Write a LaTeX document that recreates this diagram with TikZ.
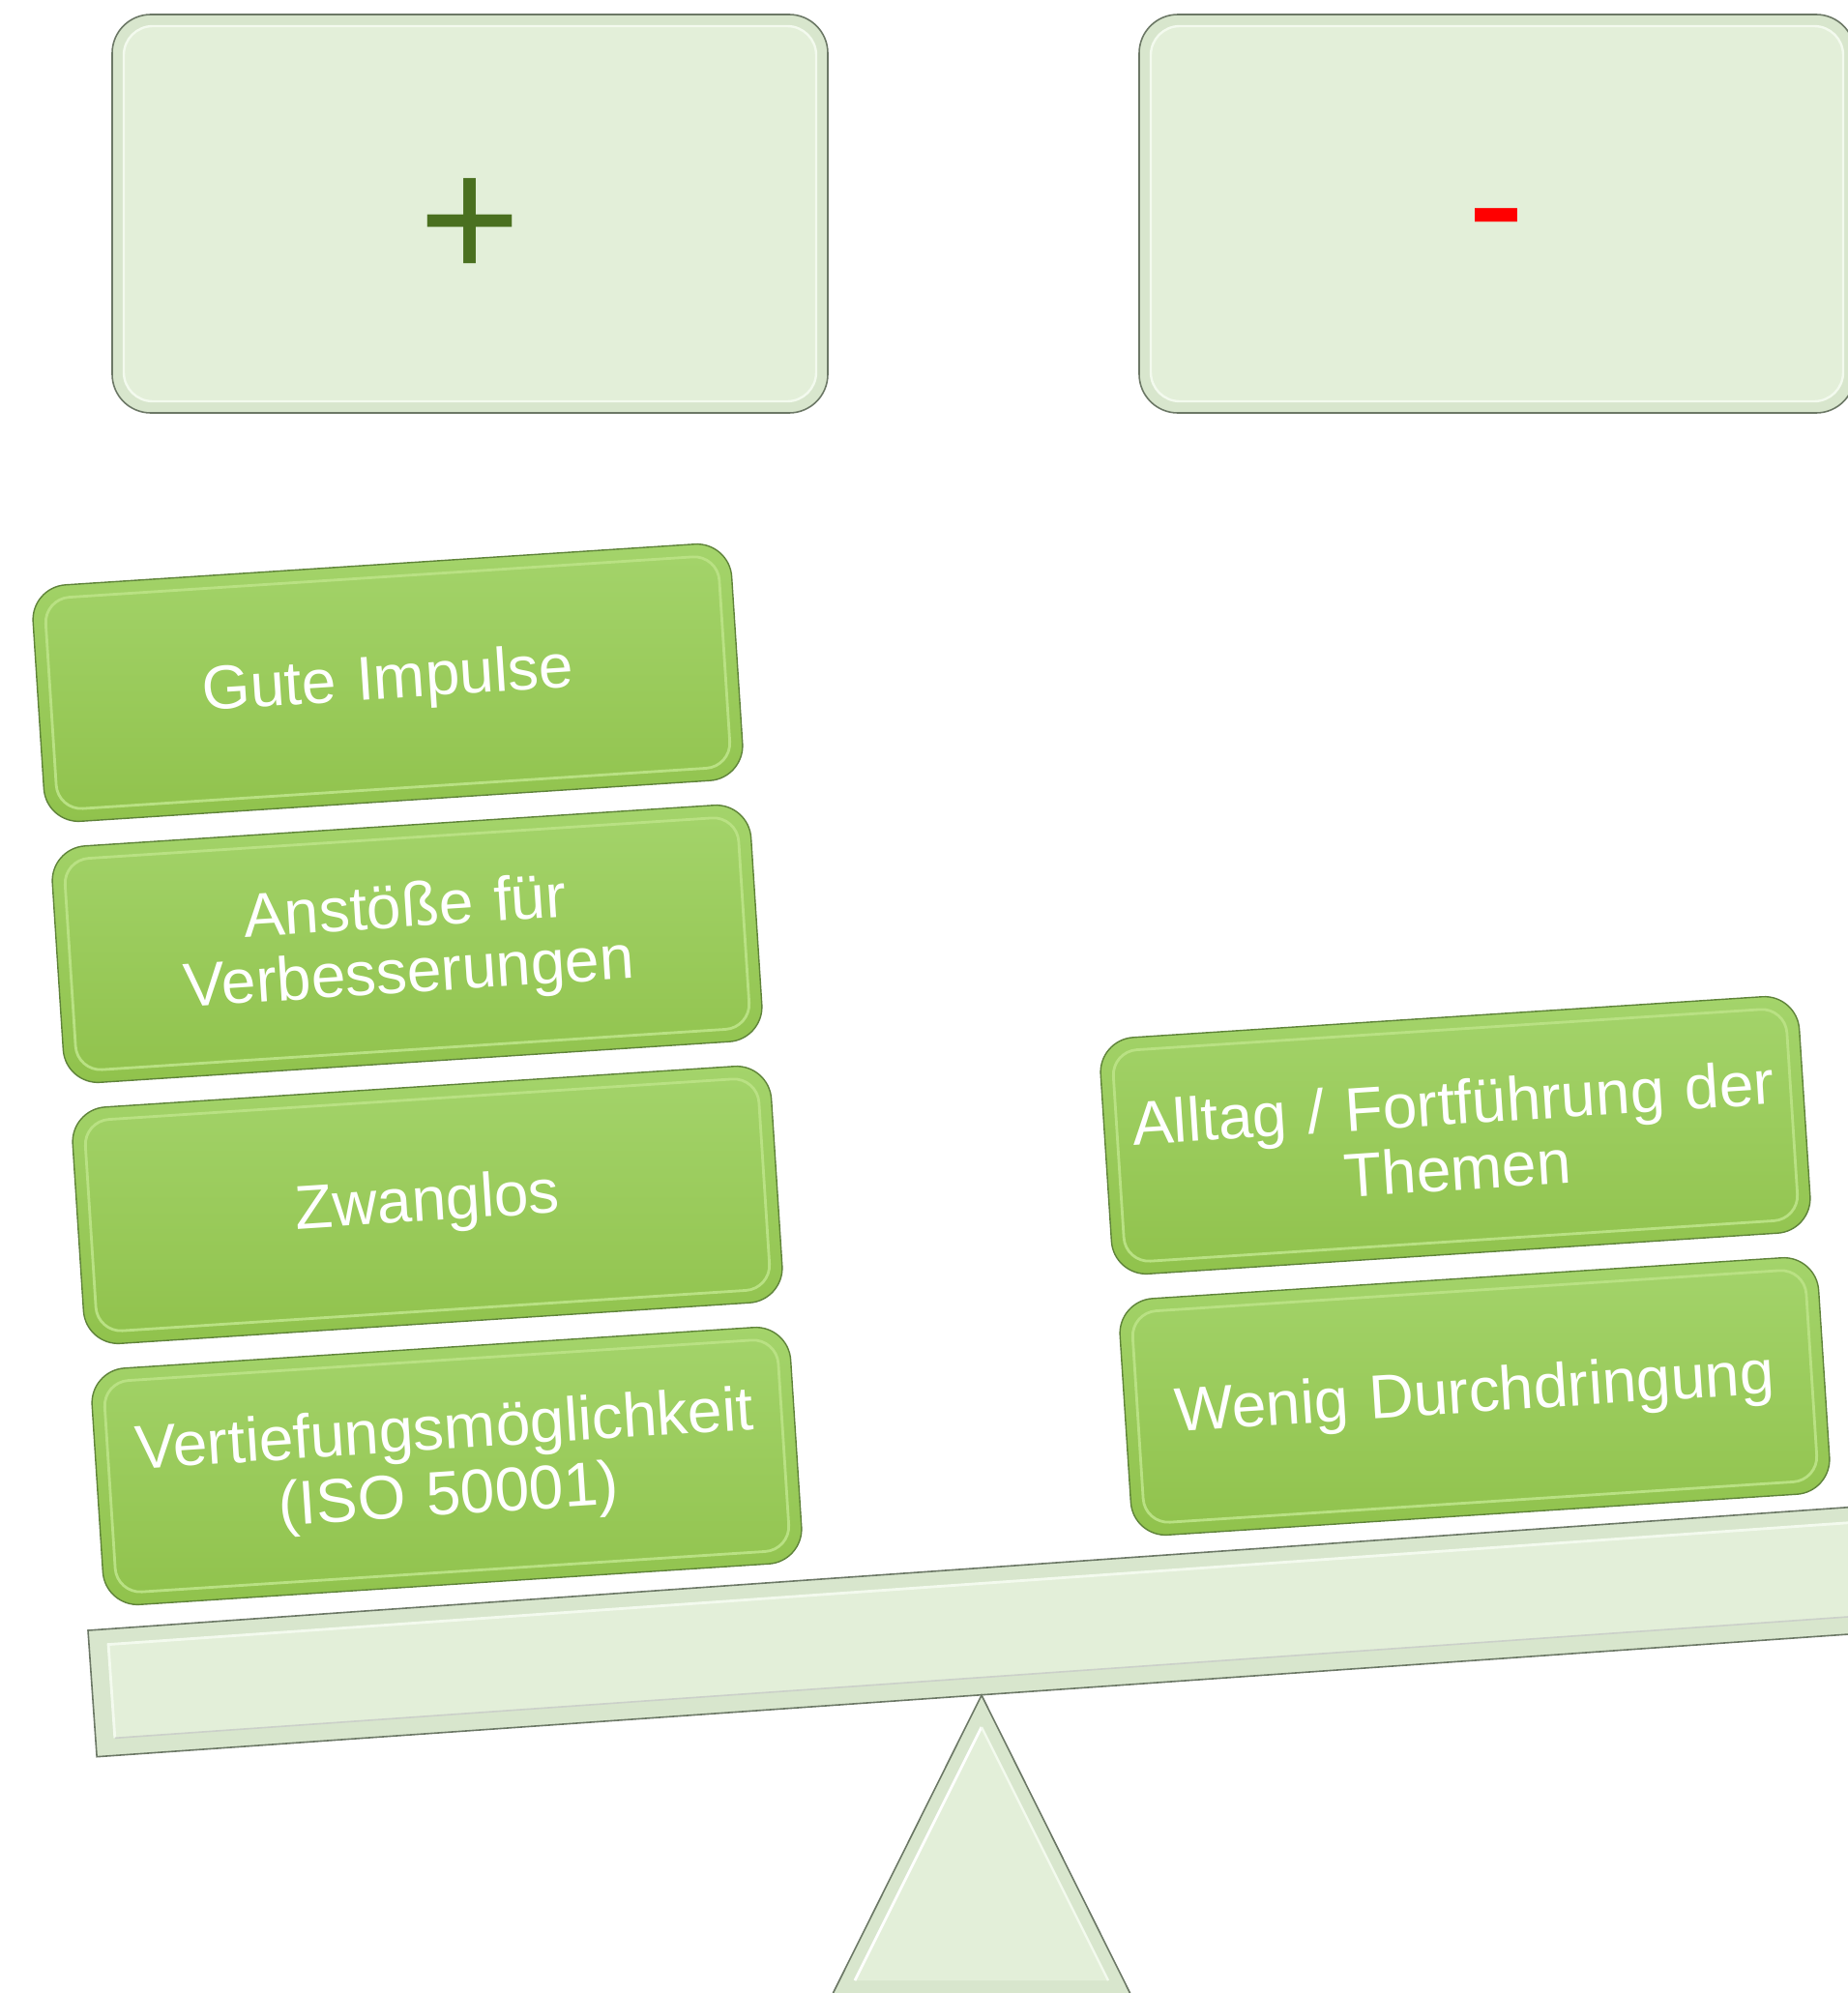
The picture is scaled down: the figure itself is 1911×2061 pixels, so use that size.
\documentclass[tikz,border=0pt]{standalone}
\usepackage{fontspec}
\setmainfont{Liberation Sans}
\definecolor{lightF}{HTML}{E3EFD9}
\definecolor{lightBand}{HTML}{D8E6CD}
\definecolor{lightRim}{HTML}{F3FAEE}
\definecolor{grayLine}{HTML}{6C7866}
\definecolor{gTop}{HTML}{A4D46B}
\definecolor{gBot}{HTML}{90C24C}
\definecolor{gLine}{HTML}{5F833A}
\definecolor{gRim}{HTML}{B9E183}
\definecolor{plusGreen}{HTML}{4A7020}
\begin{document}
\begin{tikzpicture}[x=0.5pt,y=-0.5pt,
  lbox/.style={rectangle, rounded corners=20pt, minimum width=370pt, minimum height=206pt,
    fill=lightBand, draw=grayLine, line width=0.8pt, inner sep=0pt},
  lbevel/.style={rectangle, rounded corners=15pt, minimum width=358pt, minimum height=194pt,
    fill=lightF, draw=lightRim, line width=1.2pt, inner sep=0pt},
  gbox/.style={rectangle, rounded corners=18pt, minimum width=362pt, minimum height=122.5pt,
    top color=gTop, bottom color=gBot, draw=gLine, line width=0.7pt,
    text=white, font=\fontsize{32}{34}\selectfont, align=center, text width=345pt, inner sep=0pt},
  gbevel/.style={rectangle, rounded corners=13pt, minimum width=349pt, minimum height=109.5pt,
    draw=gRim, line width=1.4pt, inner sep=0pt},
  sign/.style={font=\fontsize{90}{90}\selectfont, anchor=base, inner sep=0pt}]
\useasboundingbox (0,0) rectangle (1911,2061);
\clip (0,0) rectangle (1911,2061);

% top boxes
\node[lbox] (pbox) at (486,221) {};
\node[lbevel] (pbev) at (pbox.center) {};
\node[sign, text=plusGreen] (plus) at (486,288) {+};
\node[lbox] (mbox) at (1548,221) {};
\node[lbevel] (mbev) at (mbox.center) {};
\node[sign, text=red] (minus) at (1547,270) {-};

% left green boxes
\node[gbox, rotate=3.7] (g1) at (401,706) {Gute Impulse};
\node[gbevel, rotate=3.7] (g1b) at (g1.center) {};
\node[gbox, rotate=3.7] (g2) at (421,976) {Anstöße für\\Verbesserungen};
\node[gbevel, rotate=3.7] (g2b) at (g2.center) {};
\node[gbox, rotate=3.7] (g3) at (442,1246) {Zwanglos};
\node[gbevel, rotate=3.7] (g3b) at (g3.center) {};
\node[gbox, rotate=3.7] (g4) at (462,1516) {Vertiefungsmöglichkeit\\(ISO 50001)};
\node[gbevel, rotate=3.7] (g4b) at (g4.center) {};

% right green boxes
\node[gbox, rotate=3.7] (r1) at (1505,1174) {Alltag / Fortführung der\\Themen};
\node[gbevel, rotate=3.7] (r1b) at (r1.center) {};
\node[gbox, rotate=3.7] (r2) at (1525,1444) {Wenig Durchdringung};
\node[gbevel, rotate=3.7] (r2b) at (r2.center) {};

% beam
\begin{scope}[shift={(91,1686)}, rotate=4]
  \fill[lightBand] (0,0) rectangle (2100,131);
  \draw[grayLine, line width=0.8pt] (2100,0) -- (0,0) -- (0,131) -- (2100,131);
  \fill[lightF] (20,16) rectangle (2100,113);
  \draw[lightRim, line width=1.4pt] (2100,16) -- (20,16) -- (20,113);
  \draw[grayLine!35, line width=0.8pt] (20,113) -- (2100,113);
\end{scope}

% triangle support
\fill[lightBand] (1015,1753) -- (860,2064) -- (1170,2064) -- cycle;
\draw[grayLine, line width=0.8pt] (860,2064) -- (1015,1753) -- (1170,2064);
\fill[lightF] (1015,1786) -- (884,2048) -- (1146,2048) -- cycle;
\draw[white, line width=1.4pt] (884,2048) -- (1015,1786);
\draw[lightRim, line width=1.2pt] (1015,1786) -- (1146,2048);
\end{tikzpicture}
\end{document}
